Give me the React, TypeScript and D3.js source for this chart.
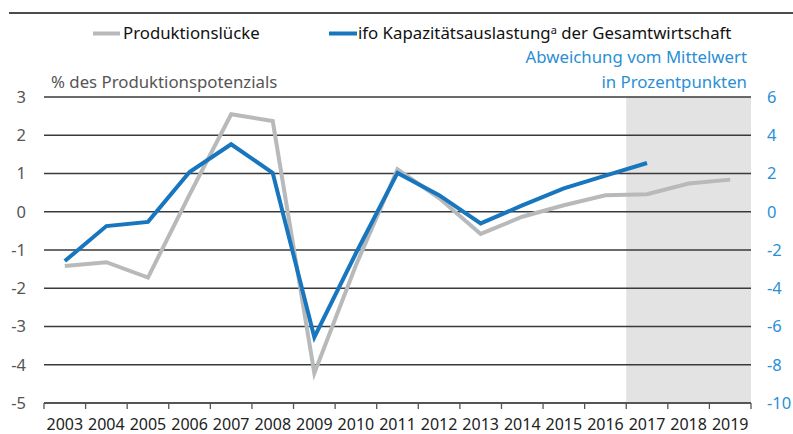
import React from "react";
import * as d3 from "d3";

const years = ["2003", "2004", "2005", "2006", "2007", "2008", "2009", "2010", "2011", "2012", "2013", "2014", "2015", "2016", "2017", "2018", "2019"];
// Produktionslücke, % des Produktionspotenzials (linke Achse)
const gapValues = [-1.42, -1.32, -1.72, 0.45, 2.55, 2.37, -4.22, -1.4, 1.11, 0.36, -0.58, -0.13, 0.17, 0.43, 0.46, 0.74, 0.84];
// ifo Kapazitätsauslastung, Abweichung vom Mittelwert (rechte Achse)
const ifoValues = [-2.58, -0.75, -0.53, 2.08, 3.53, 2.03, -6.56, -2.17, 2.03, 0.87, -0.61, 0.33, 1.22, 1.89, 2.55];
const leftTicks = [3, 2, 1, 0, -1, -2, -3, -4, -5];
const rightTicks = [6, 4, 2, 0, -2, -4, -6, -8, -10];
const forecastYears = ["2017", "2018", "2019"];

const W = 793;
const H = 434;
const margin = { left: 44, right: 42, top: 97, bottom: 31 };
const font = "'Noto Sans', 'Open Sans', sans-serif";
const blue = "#1776be";
const gray = "#b7b9ba";
const axisBlue = "#2b8fd5";

export default function App() {
    const x = d3.scaleBand().domain(years).range([margin.left, W - margin.right]).padding(0);
    const yL = d3.scaleLinear().domain([-5, 3]).range([H - margin.bottom, margin.top]);
    const yR = d3.scaleLinear().domain([-10, 6]).range([H - margin.bottom, margin.top]);
    const cx = (yr: string) => (x(yr) as number) + x.bandwidth() / 2;

    const gapLine = d3.line<number>().x((_, i) => cx(years[i])).y(d => yL(d));
    const ifoLine = d3.line<number>().x((_, i) => cx(years[i])).y(d => yR(d));

    const x0 = margin.left;
    const x1 = W - margin.right;
    const shadeX = x(forecastYears[0]) as number;
    const boundaries = years.map(y => x(y) as number).concat([x1]);

    return (
        <div style={{ position: "absolute", left: 0, top: 0 }}>
            <svg width={W} height={H} style={{ display: "block", fontFamily: font }}>
                <rect x={0} y={0} width={W} height={H} fill="#fff" />
                {/* obere Linie */}
                <line x1={9} x2={W} y1={13} y2={13} stroke="#111" strokeWidth={1.6} />

                {/* Legende */}
                <line x1={93} x2={120} y1={33.5} y2={33.5} stroke={gray} strokeWidth={4} />
                <text x={123} y={39} fontSize={16.8} fill="#111">Produktionslücke</text>
                <line x1={329} x2={357} y1={33.5} y2={33.5} stroke={blue} strokeWidth={4} />
                <text x={358} y={39} fontSize={16.8} fill="#111">
                    ifo Kapazitätsauslastung<tspan fontSize={11} dy={-5}>a</tspan><tspan dy={5}> der Gesamtwirtschaft</tspan>
                </text>

                <text x={51} y={88} fontSize={16.8} fill="#555">% des Produktionspotenzials</text>
                <text x={747} y={63} fontSize={16.8} fill={axisBlue} textAnchor="end">Abweichung vom Mittelwert</text>
                <text x={747} y={88} fontSize={16.8} fill={axisBlue} textAnchor="end">in Prozentpunkten</text>

                {/* Prognosezeitraum */}
                <rect x={shadeX} y={yL(3)} width={x1 - shadeX} height={yL(-5) - yL(3)} fill="#e3e3e3" />

                {/* Gitterlinien */}
                {leftTicks.filter(t => t > -5).map(t => (
                    <line key={t} x1={x0} x2={x1} y1={yL(t)} y2={yL(t)} stroke="#3a3a3a" strokeWidth={1.3} />
                ))}
                <line x1={x0} x2={x1} y1={yL(-5)} y2={yL(-5)} stroke="#555" strokeWidth={1.8} />
                {boundaries.map((b, i) => (
                    <line key={i} x1={b} x2={b} y1={yL(-5)} y2={yL(-5) + 6} stroke="#555" strokeWidth={1.3} />
                ))}

                {/* Achsenbeschriftungen */}
                {leftTicks.map(t => (
                    <text key={t} x={26} y={yL(t)} dy="0.35em" fontSize={16.5} fill="#555" textAnchor="end">{t}</text>
                ))}
                {rightTicks.map(t => (
                    <text key={t} x={767} y={yR(t)} dy="0.35em" fontSize={16.5} fill={axisBlue}>{t}</text>
                ))}
                {years.map(yr => (
                    <text key={yr} x={cx(yr)} y={430} fontSize={16} fill="#222" textAnchor="middle">{yr}</text>
                ))}

                {/* Linien */}
                <path d={gapLine(gapValues) || ""} fill="none" stroke={gray} strokeWidth={4} strokeLinejoin="miter" />
                <path d={ifoLine(ifoValues) || ""} fill="none" stroke={blue} strokeWidth={4} strokeLinejoin="miter" />
            </svg>
        </div>
    );
}
